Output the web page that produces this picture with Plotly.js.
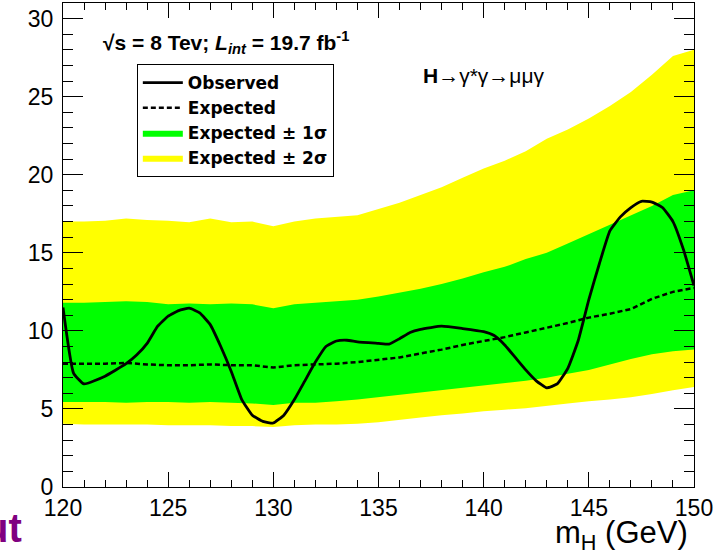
<!DOCTYPE html>
<html>
<head>
<meta charset="utf-8">
<script src="https://cdn.plot.ly/plotly-3.0.1.min.js"></script>
<style>html,body{margin:0;padding:0;background:#fff;}#chart{width:715px;height:554px;}</style>
</head>
<body>
<div id="chart"></div>
<script>
// Higgs mass points (GeV) for the expected limit and bands
const massGrid = [120,121,122,123,124,125,126,127,128,129,130,131,132,133,134,135,136,137,138,139,140,141,142,143,144,145,146,147,148,149,150];
const expectedLimit = [7.9,7.9,7.9,7.95,7.85,7.8,7.8,7.85,7.8,7.8,7.65,7.8,7.85,7.9,8.0,8.15,8.3,8.55,8.8,9.1,9.35,9.6,9.9,10.2,10.5,10.85,11.1,11.4,12.05,12.5,12.75];
const plus1Sigma  = [11.8,11.8,11.85,11.9,11.85,11.7,11.75,11.7,11.75,11.7,11.45,11.7,11.8,11.9,12.0,12.2,12.45,12.7,13.0,13.35,13.75,14.1,14.6,15.0,15.6,16.2,16.8,17.4,18.0,18.7,19.0];
const minus1Sigma = [5.45,5.45,5.45,5.4,5.45,5.45,5.4,5.45,5.4,5.35,5.25,5.4,5.4,5.5,5.6,5.75,5.9,6.05,6.2,6.35,6.5,6.65,6.8,7.0,7.25,7.5,7.85,8.2,8.5,8.7,8.8];
const plus2Sigma  = [17.0,17.0,17.05,17.2,17.1,17.05,16.95,17.2,16.95,17.0,16.7,17.0,17.2,17.3,17.4,17.8,18.2,18.7,19.2,19.8,20.4,20.9,21.5,22.3,22.9,23.6,24.4,25.3,26.4,27.6,28.0];
const minus2Sigma = [4.05,4.0,4.0,4.0,4.0,3.95,3.95,3.95,3.9,3.9,3.85,3.95,4.0,4.0,4.05,4.15,4.3,4.45,4.6,4.7,4.85,4.95,5.05,5.2,5.35,5.5,5.6,5.75,5.95,6.2,6.4];

// Observed limit
const obsMass  = [120,120.5,121,122,123,123.5,124,124.5,125,125.5,126,126.5,127,127.5,128,128.5,129,129.5,130,130.5,131,131.5,132,132.5,133,133.5,134,135,135.5,136,136.5,137,138,139,140,140.5,141,141.5,142,142.5,143,143.5,144,144.5,145,145.5,146,146.5,147,147.5,148,148.5,149,149.5,150];
const obsLimit = [11.5,7.3,6.6,7.1,7.9,8.45,9.2,10.3,10.95,11.3,11.45,11.15,10.4,9.0,7.4,5.6,4.6,4.2,4.1,4.6,5.6,6.8,8.0,9.0,9.35,9.4,9.3,9.2,9.15,9.5,9.9,10.1,10.3,10.15,9.95,9.7,9.1,8.3,7.5,6.8,6.35,6.6,7.6,9.4,12.0,14.3,16.4,17.3,17.9,18.3,18.25,17.9,17.0,15.2,12.9];

const seriesNames = ["Observed","Expected","Expected ± 1σ","Expected ± 2σ"];
const xTitle = "m<sub>H</sub> (GeV)";
const energyLabel = "<b>√s = 8 Tev; <i>L</i><sub><i>int</i></sub> = 19.7 fb<sup>-1</sup></b>";
const channelLabel = "<b>H</b>→γ*γ→μμγ";

const rev = a => a.slice().reverse();
const band = (up, lo) => up.concat(rev(lo));
const bandX = massGrid.concat(rev(massGrid));

const FONT = "Liberation Sans, Arial, Helvetica, sans-serif";
const WIDE = "DejaVu Sans, Liberation Sans, sans-serif";

const traces = [
  {x: bandX, y: band(plus2Sigma, minus2Sigma), type:'scatter', mode:'lines', fill:'toself',
   fillcolor:'#ffff00', line:{width:0, color:'#ffff00'}, name: seriesNames[3], hoverinfo:'skip'},
  {x: bandX, y: band(plus1Sigma, minus1Sigma), type:'scatter', mode:'lines', fill:'toself',
   fillcolor:'#00ff00', line:{width:0, color:'#00ff00'}, name: seriesNames[2], hoverinfo:'skip'},
  {x: massGrid, y: expectedLimit, type:'scatter', mode:'lines', name: seriesNames[1],
   line:{color:'#000', width:2.5, dash:'5px,3px'}},
  {x: obsMass, y: obsLimit, type:'scatter', mode:'lines', name: seriesNames[0],
   line:{color:'#000', width:2.8, shape:'spline', smoothing:0.4}}
];

const axisCommon = {
  showline:true, linecolor:'#000', linewidth:1, mirror:'ticks',
  ticks:'inside', tickcolor:'#000', tickwidth:1,
  showgrid:false, zeroline:false,
  tickfont:{family:FONT, size:23, color:'#000'}
};

const layout = {
  width:715, height:554,
  margin:{l:63, r:21, t:3, b:67},
  paper_bgcolor:'#fff', plot_bgcolor:'#fff',
  font:{family:FONT, color:'#000'},
  showlegend:true,
  legend:{x:0.117, y:0.874, xanchor:'left', yanchor:'top', traceorder:'reversed',
          bgcolor:'#fff', bordercolor:'#000', borderwidth:1, itemwidth:40,
          font:{family:WIDE, size:17, color:'#000', weight:'bold'}},
  xaxis: Object.assign({}, axisCommon, {range:[120,150], dtick:5, tick0:120, ticklen:15,
          minor:{dtick:1, ticklen:7, ticks:'inside', tickcolor:'#000', tickwidth:1}}),
  yaxis: Object.assign({}, axisCommon, {range:[0,31], dtick:5, tick0:0, ticklen:20,
          ticklabelstandoff:4,
          minor:{dtick:1, ticklen:10, ticks:'inside', tickcolor:'#000', tickwidth:1}}),
  annotations:[
    {xref:'paper', yref:'paper', x:0.259, y:0.919, xanchor:'center', yanchor:'middle',
     text:energyLabel, showarrow:false, font:{family:FONT, size:21, color:'#000'}},
    {xref:'paper', yref:'paper', x:0.667, y:0.851, xanchor:'center', yanchor:'middle',
     text:channelLabel, showarrow:false, font:{family:FONT, size:21, color:'#000'}},
    {xref:'paper', yref:'paper', x:0.9937, y:-0.1, xanchor:'right', yanchor:'middle',
     text:xTitle, showarrow:false, font:{family:FONT, size:31, color:'#000'}},
    {xref:'paper', yref:'paper', x:-0.128, y:-0.085, xanchor:'left', yanchor:'middle',
     text:"<b>ut</b>", showarrow:false, font:{family:FONT, size:40, color:'#800080'}}
  ]
};

Plotly.newPlot('chart', traces, layout, {staticPlot:true, displayModeBar:false});
</script>
</body>
</html>
